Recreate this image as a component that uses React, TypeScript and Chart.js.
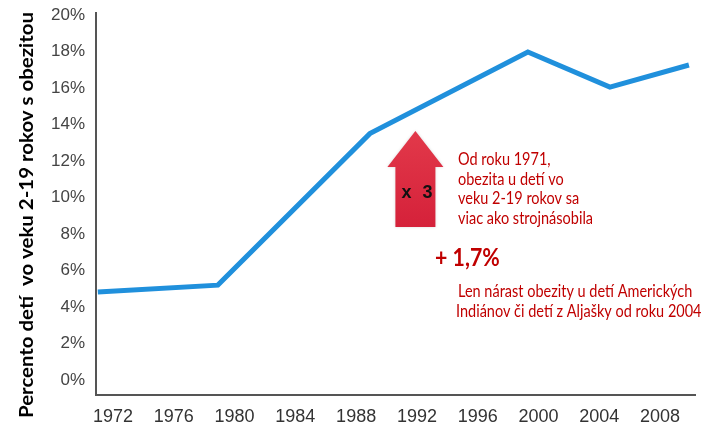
import React, { useEffect, useRef } from "react";
import { Chart, registerables } from "chart.js";

Chart.register(...registerables);

// ---- data ----
const years = [1971, 1978.9, 1988.9, 1999.3, 2004.7, 2009.9];
const obesityPct = [4.82, 5.2, 13.5, 17.97, 16.05, 17.26];
const xTickYears = [1972, 1976, 1980, 1984, 1988, 1992, 1996, 2000, 2004, 2008];
const yTickValues = [0, 2, 4, 6, 8, 10, 12, 14, 16, 18, 20];

const yTitle = "Percento detí  vo veku 2-19 rokov s obezitou";
const arrowLabel = ["x", "3"];
const noteLines = ["Od roku 1971,", "obezita u detí vo", "veku 2-19 rokov sa", "viac ako strojnásobila"];
const plusLabel = "+ 1,7%";
const note2Lines = ["Len nárast obezity u detí Amerických", "Indiánov či detí z Aljašky od roku 2004"];

// annotation anchors (data units)
const arrowYear = 1991.9;
const arrowTopPct = 13.64;
const arrowHeadBasePct = 11.67;
const arrowBottomPct = 8.38;

const TICK_FONT = '"Liberation Sans", Arial, sans-serif';
const NOTE_FONT = 'Lato, "Open Sans", sans-serif';
const RED = "#c00000";

const annotations = {
  id: "annotations",
  afterDraw(chart: any) {
    const ctx = chart.ctx as CanvasRenderingContext2D;
    const xs = chart.scales.x;
    const ys = chart.scales.y;

    // y axis title
    ctx.save();
    ctx.font = "bold 18px " + NOTE_FONT;
    const tw = ctx.measureText(yTitle).width;
    ctx.translate(27, 215);
    ctx.rotate(-Math.PI / 2);
    ctx.scale(406 / tw, 1);
    ctx.fillStyle = "#000";
    ctx.textAlign = "center";
    ctx.textBaseline = "middle";
    ctx.fillText(yTitle, 0, 0);
    ctx.restore();

    // red arrow
    const ax = xs.getPixelForValue(arrowYear);
    const tipY = ys.getPixelForValue(arrowTopPct);
    const baseY = ys.getPixelForValue(arrowHeadBasePct);
    const botY = ys.getPixelForValue(arrowBottomPct);
    const headHalf = 28;
    const shaftHalf = 20;
    ctx.save();
    const grad = ctx.createLinearGradient(0, tipY, 0, botY);
    grad.addColorStop(0, "#e2394a");
    grad.addColorStop(1, "#d5213a");
    ctx.fillStyle = grad;
    ctx.shadowColor = "rgba(0,0,0,0.15)";
    ctx.shadowBlur = 3;
    ctx.beginPath();
    ctx.moveTo(ax, tipY);
    ctx.lineTo(ax + headHalf, baseY);
    ctx.lineTo(ax + shaftHalf, baseY);
    ctx.lineTo(ax + shaftHalf, botY);
    ctx.lineTo(ax - shaftHalf, botY);
    ctx.lineTo(ax - shaftHalf, baseY);
    ctx.lineTo(ax - headHalf, baseY);
    ctx.closePath();
    ctx.fill();
    ctx.restore();

    // x 3
    ctx.save();
    ctx.fillStyle = "#111";
    ctx.font = "bold 18px Arial, 'Liberation Sans', sans-serif";
    ctx.textAlign = "center";
    ctx.textBaseline = "middle";
    ctx.fillText(arrowLabel[0], ax - 9, 193);
    ctx.fillText(arrowLabel[1], ax + 12, 193);
    ctx.restore();

    // red notes
    ctx.save();
    ctx.fillStyle = RED;
    ctx.textAlign = "left";
    ctx.textBaseline = "middle";
    ctx.font = "17px " + NOTE_FONT;
    const refW = ctx.measureText(noteLines[3]).width;
    const sx = 135 / refW;
    const drawLine = (t: string, x: number, y: number) => {
      ctx.save();
      ctx.translate(x, y);
      ctx.scale(sx, 1);
      ctx.fillText(t, 0, 0);
      ctx.restore();
    };
    noteLines.forEach((t, i) => drawLine(t, 458, 160 + i * 19.5));
    note2Lines.forEach((t, i) => drawLine(t, i === 0 ? 458 : 456, 292 + i * 20));
    ctx.font = "bold 25px " + NOTE_FONT;
    drawLine(plusLabel, 435, 258);
    ctx.restore();
  },
};

export default function App() {
  const ref = useRef<HTMLCanvasElement | null>(null);
  useEffect(() => {
    if (!ref.current) return;
    const chart = new Chart(ref.current, {
      type: "line",
      data: {
        datasets: [
          {
            data: years.map((x, i) => ({ x, y: obesityPct[i] })),
            borderColor: "#2090dc",
            borderWidth: 5,
            pointRadius: 0,
            tension: 0,
            fill: false,
          },
        ],
      },
      options: {
        animation: false,
        responsive: false,
        devicePixelRatio: 1,
        layout: { padding: { top: 13, right: 17, left: 0, bottom: 0 } },
        plugins: { legend: { display: false }, tooltip: { enabled: false } },
        scales: {
          x: {
            type: "linear",
            min: 1970.88,
            max: 2010.3,
            afterBuildTicks: (s: any) => {
              s.ticks = xTickYears.map((v) => ({ value: v }));
            },
            afterFit: (s: any) => {
              s.height = 34;
              s.paddingLeft = 0;
              s.paddingRight = 0;
            },
            grid: { display: false, drawTicks: false },
            border: { display: true, color: "#555", width: 2 },
            ticks: {
              autoSkip: false,
              maxRotation: 0,
              padding: 11,
              color: "#333",
              font: { family: TICK_FONT, size: 18 },
              callback: (v: any) => String(v),
            },
          },
          y: {
            type: "linear",
            min: -0.82,
            max: 20.11,
            afterBuildTicks: (s: any) => {
              s.ticks = yTickValues.map((v) => ({ value: v }));
            },
            afterFit: (s: any) => {
              s.width = 96;
              s.paddingTop = 0;
              s.paddingBottom = 0;
            },
            grid: { display: false, drawTicks: false },
            border: { display: true, color: "#555", width: 2 },
            ticks: {
              padding: 11,
              color: "#444",
              font: { family: TICK_FONT, size: 17 },
              callback: (v: any) => v + "%",
            },
          },
        },
      },
      plugins: [annotations],
    });
    return () => chart.destroy();
  }, []);
  return (
    <div style={{ position: "absolute", left: 0, top: 0, width: 712, height: 429, background: "#fff" }}>
      <canvas ref={ref} width={712} height={429} />
    </div>
  );
}
